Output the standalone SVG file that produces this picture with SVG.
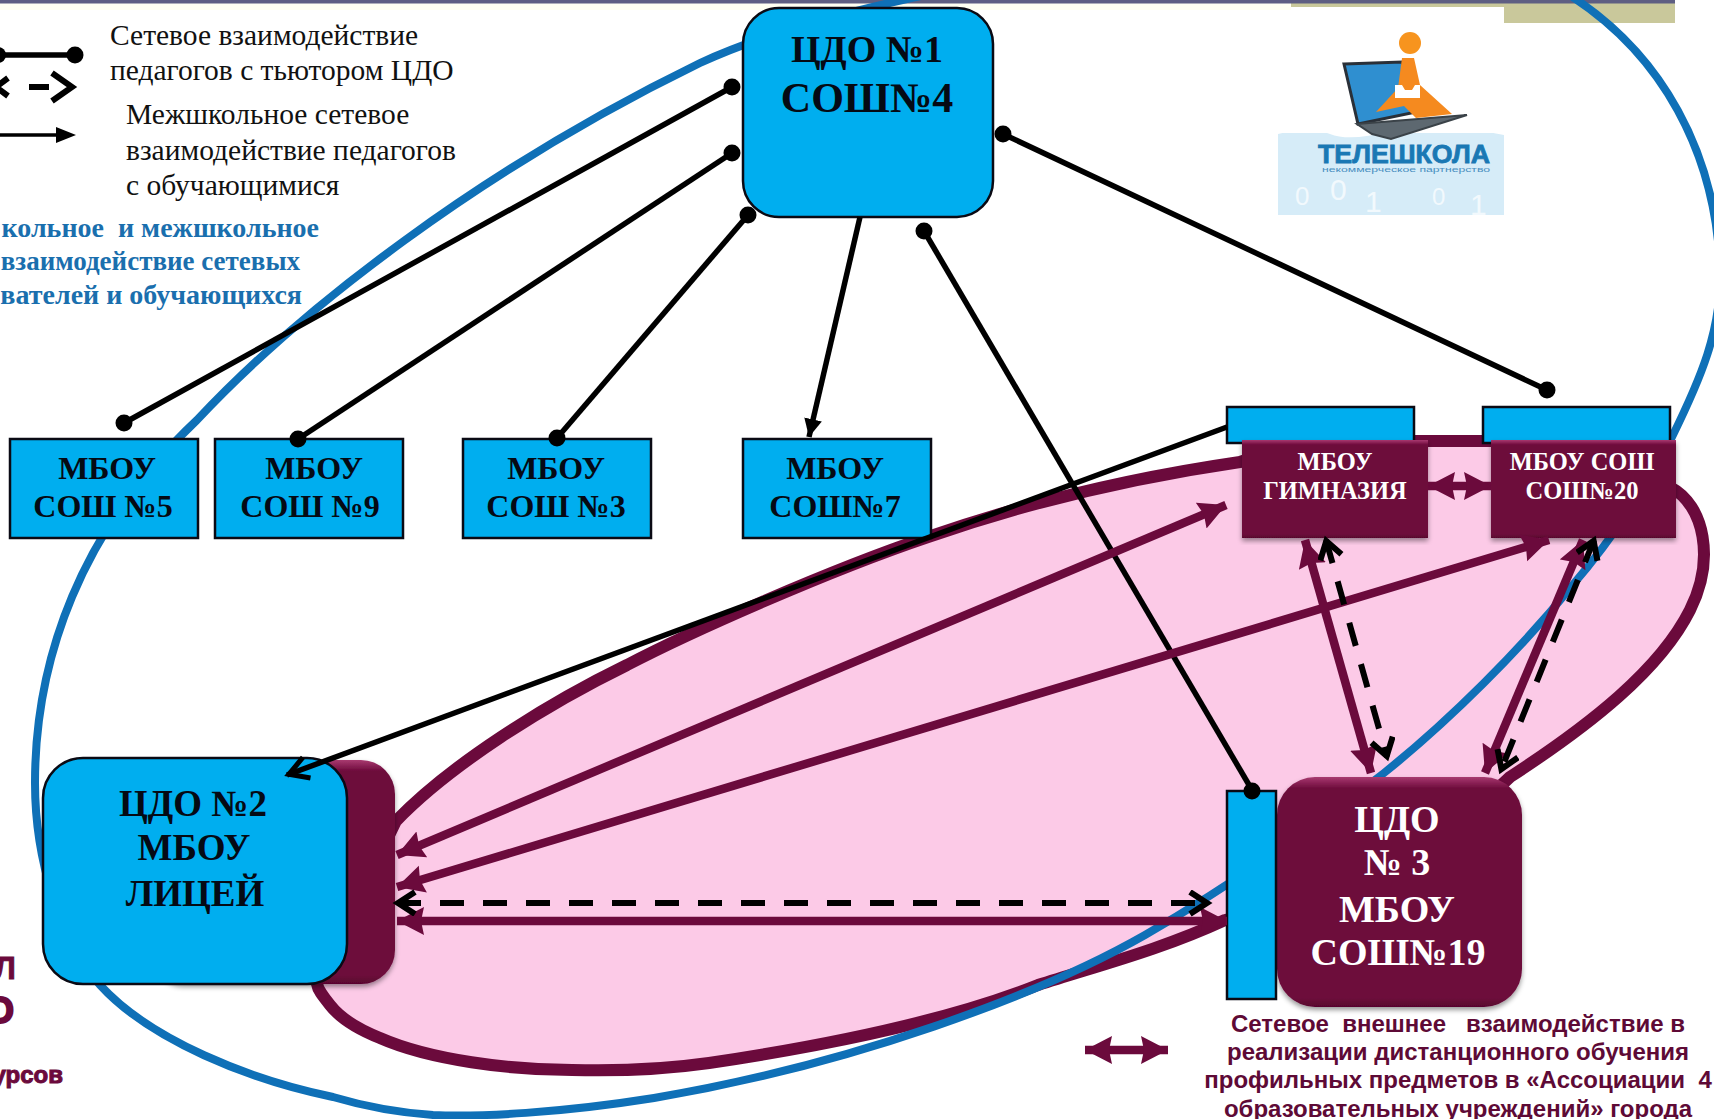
<svg xmlns="http://www.w3.org/2000/svg" width="1714" height="1119" viewBox="0 0 1714 1119">
<style>
.s{font-family:"Liberation Serif","Noto Sans",serif}
.a{font-family:"Liberation Sans","Noto Sans",sans-serif}
.t{font-weight:bold;text-anchor:middle}
.k{fill:#050a14}
.w{fill:#fff}
.blue{fill:#00aeef;stroke:#0a0a14;stroke-width:2.5}
.mar{fill:url(#mg);filter:url(#sh)}
.leg{font-size:29.5px;fill:#111}
.bl{font-size:28px;font-weight:bold;fill:#1a6fae;text-anchor:end;white-space:pre}
.br{font-size:24px;font-weight:bold;fill:#5e0a36;text-anchor:middle;white-space:pre}
.bk{stroke:#000;stroke-width:5.5;fill:none}
.dash{stroke:#000;stroke-width:6;fill:none;stroke-dasharray:24 19;marker-start:url(#open);marker-end:url(#open)}
.mr{stroke:#6b0a3c;stroke-width:8.5;fill:none;marker-start:url(#mh);marker-end:url(#mh)}
.d{fill:#000}
</style>
<defs>
<linearGradient id="mg" x1="0" y1="0" x2="0" y2="1">
<stop offset="0" stop-color="#a83a70"/><stop offset="0.05" stop-color="#6d0a3b"/><stop offset="0.96" stop-color="#6d0a3b"/><stop offset="1" stop-color="#58062e"/>
</linearGradient>
<filter id="sh" x="-5%" y="-5%" width="110%" height="112%"><feDropShadow dx="0" dy="3" stdDeviation="2.500" flood-color="#000" flood-opacity="0.4"/></filter>
<marker id="mh" markerUnits="userSpaceOnUse" markerWidth="32" markerHeight="32" refX="27" refY="14" orient="auto-start-reverse"><path d="M0 0L27 14L0 28L3 14Z" fill="#6b0a3c"/></marker>
<marker id="open" markerUnits="userSpaceOnUse" markerWidth="30" markerHeight="30" refX="23" refY="13" orient="auto-start-reverse"><path d="M5 2L22 13L5 24" fill="none" stroke="#000" stroke-width="6"/></marker>
<marker id="bh" markerUnits="userSpaceOnUse" markerWidth="22" markerHeight="22" refX="18" refY="9" orient="auto"><path d="M0 0L18 9L0 18Z" fill="#000"/></marker>
<marker id="bo" markerUnits="userSpaceOnUse" markerWidth="30" markerHeight="30" refX="25" refY="13" orient="auto"><path d="M4 2L23 13L4 24" fill="none" stroke="#000" stroke-width="5"/></marker>
</defs>
<rect width="1714" height="1119" fill="#fff"/>
<g id="header">
<rect x="0" y="3" width="1291" height="7" fill="#fffff2"/>
<path d="M1291 3H1675V23H1504V7H1291Z" fill="#c9c89b"/>
<rect width="1675" height="3.500" fill="#5e5e82"/>
</g>
<g id="pink-area"><path d="M396 821C450 765 545 705 627 665C690 632 830 570 928 537C1020 505 1130 478 1240 462L1300 441H1600L1670 487C1705 505 1715 560 1690 610C1660 670 1590 725 1510 777L1400 880L1225 920C1160 950 1100 965 1038 985C950 1020 830 1045 709 1063C660 1070 610 1071 572 1070C510 1070 430 1060 380 1038C360 1030 340 1018 330 1005C322 995 318 990 317 984Z" fill="#fccae7" stroke="#6b0a3c" stroke-width="12" stroke-linejoin="round"/></g>
<g id="blue-area"><path d="M1574 -2C1660 55 1716 150 1720 270C1722 330 1700 380 1672 437C1650 480 1620 530 1571 587C1520 650 1450 720 1384 773C1330 815 1240 880 1145 935C1040 995 850 1065 654 1098C560 1113 480 1117 433 1115C390 1112 360 1105 333 1097C250 1080 150 1040 100 985C60 940 35 860 35 783C35 660 80 530 197 420C300 310 480 170 700 63C900 -30 1450 -100 1574 -2Z" fill="none" stroke="#0f70b7" stroke-width="8"/></g>
<g id="logo">
<rect x="1278" y="133" width="226" height="82" fill="#d6ecf8"/>
<path d="M1278 134Q1310 126 1330 134T1390 131T1504 135V120H1278Z" fill="#fff"/>
<text class="a" x="1295" y="205" font-size="26" fill="#f2f9fd">0</text>
<text class="a" x="1330" y="200" font-size="30" fill="#f2f9fd">0</text>
<text class="a" x="1365" y="212" font-size="30" fill="#f2f9fd">1</text>
<text class="a" x="1432" y="205" font-size="24" fill="#f2f9fd">0</text>
<text class="a" x="1470" y="215" font-size="30" fill="#f2f9fd">1</text>
<path d="M1344 64L1402 62L1426 110L1358 124Z" fill="#2f8fd0" stroke="#2a3038" stroke-width="3"/>
<path d="M1357 124L1467 115L1391 139L1372 134Z" fill="#5d6870" stroke="#3a4248" stroke-width="2"/>
<path d="M1402 58H1414L1420 85L1452 114L1416 118L1404 106L1376 112L1398 88Z" fill="#f58a1f"/>
<circle cx="1410" cy="43" r="11" fill="#f7941e"/>
<path d="M1395 85H1402L1405 90H1412L1415 85H1420V98H1395Z" fill="#fff"/>
<text class="a" x="1404" y="163" font-size="26" font-weight="bold" text-anchor="middle" textLength="172" lengthAdjust="spacingAndGlyphs" fill="#1a78b4" stroke="#1a78b4" stroke-width="0.800">ТЕЛЕШКОЛА</text>
<text class="a" x="1406" y="172" font-size="7" text-anchor="middle" textLength="168" lengthAdjust="spacingAndGlyphs" fill="#4a8fc0">некоммерческое партнерство</text>
</g>
<g id="legend" class="s">
<text class="leg" x="110" y="45">Сетевое взаимодействие</text>
<text class="leg" x="110" y="80">педагогов с тьютором ЦДО</text>
<text class="leg" x="126" y="124">Межшкольное сетевое</text>
<text class="leg" x="126" y="160">взаимодействие педагогов</text>
<text class="leg" x="126" y="195">с обучающимися</text>
<text class="bl" x="319" y="237">кольное  и межшкольное</text>
<text class="bl" x="300" y="270" style="font-size:27px">взаимодействие сетевых</text>
<text class="bl" x="302" y="304">вателей и обучающихся</text>
<path d="M0 55H75" class="bk"/><circle cx="75" cy="55" r="8.500" class="d"/><circle cx="-2" cy="55" r="8" class="d"/>
<path d="M29 87H49" stroke="#000" stroke-width="6"/><path d="M52 73L72 87L52 101" fill="none" stroke="#000" stroke-width="6"/><path d="M8 78L-4 87L8 96" fill="none" stroke="#000" stroke-width="6"/>
<path d="M0 135H58" stroke="#000" stroke-width="3.500"/><path d="M56 127L76 135L56 143Z" class="d"/>
</g>
<g id="cdo1"><rect class="blue" x="743" y="8" width="250" height="209" rx="36"/><text class="s t k" x="867" y="62" font-size="38">ЦДО №1</text><text class="s t k" x="867" y="112" font-size="42">СОШ№4</text></g>
<g id="school5"><rect class="blue" x="10" y="439" width="188" height="99"/><text class="s t k" x="107" y="479" font-size="32">МБОУ</text><text class="s t k" x="103" y="517" font-size="32">СОШ №5</text></g>
<g id="school9"><rect class="blue" x="215" y="439" width="188" height="99"/><text class="s t k" x="314" y="479" font-size="32">МБОУ</text><text class="s t k" x="310" y="517" font-size="32">СОШ №9</text></g>
<g id="school3"><rect class="blue" x="463" y="439" width="188" height="99"/><text class="s t k" x="556" y="479" font-size="32">МБОУ</text><text class="s t k" x="556" y="517" font-size="32">СОШ №3</text></g>
<g id="school7"><rect class="blue" x="743" y="439" width="188" height="99"/><text class="s t k" x="835" y="479" font-size="32">МБОУ</text><text class="s t k" x="835" y="517" font-size="32">СОШ№7</text></g>
<g id="gymnasium"><rect class="blue" x="1227" y="407" width="187" height="36"/><rect class="mar" x="1242" y="440" width="186" height="98"/><text class="s t w" x="1335" y="470" font-size="24.500">МБОУ</text><text class="s t w" x="1335" y="499" font-size="24.500">ГИМНАЗИЯ</text></g>
<g id="school20"><rect class="blue" x="1483" y="407" width="187" height="36"/><rect class="mar" x="1491" y="440" width="185" height="98"/><text class="s t w" x="1582" y="470" font-size="24.500">МБОУ СОШ</text><text class="s t w" x="1582" y="499" font-size="24.500">СОШ№20</text></g>
<g id="cdo2"><rect class="mar" x="150" y="760" width="245" height="224" rx="34"/><rect class="blue" x="43" y="758" width="304" height="226" rx="40"/><text class="s t k" x="193" y="816" font-size="37">ЦДО №2</text><text class="s t k" x="194" y="860" font-size="37">МБОУ</text><text class="s t k" x="195" y="906" font-size="37">ЛИЦЕЙ</text></g>
<g id="cdo3"><rect class="mar" x="1277" y="777" width="245" height="230" rx="38"/><rect class="blue" x="1227" y="791" width="49" height="208"/><text class="s t w" x="1397" y="832" font-size="38">ЦДО</text><text class="s t w" x="1397" y="875" font-size="38">№ 3</text><text class="s t w" x="1397" y="922" font-size="38">МБОУ</text><text class="s t w" x="1398" y="965" font-size="38">СОШ№19</text></g>
<g id="connectors">
<path class="bk" d="M732 87L124 423"/><circle class="d" cx="732" cy="87" r="8.500"/><circle class="d" cx="124" cy="423" r="8.500"/>
<path class="bk" d="M732 153L298 439"/><circle class="d" cx="732" cy="153" r="8.500"/><circle class="d" cx="298" cy="439" r="8.500"/>
<path class="bk" d="M748 215L557 438"/><circle class="d" cx="748" cy="215" r="8.500"/><circle class="d" cx="557" cy="438" r="8.500"/>
<path class="bk" d="M860 217L809 437" marker-end="url(#bh)"/>
<path class="bk" d="M1003 134L1547 390"/><circle class="d" cx="1003" cy="134" r="8.500"/><circle class="d" cx="1547" cy="390" r="8.500"/>
<path class="bk" d="M924 231L1252 790"/><circle class="d" cx="924" cy="231" r="8.500"/><circle class="d" cx="1252" cy="791" r="8.500"/>
<path class="bk" d="M1227 427L287 775" marker-end="url(#bo)"/>
<path class="mr" d="M1226 505L397 855"/>
<path class="mr" d="M1549 540L397 887"/>
<path class="mr" d="M1227 921H397"/>
<path class="dash" d="M397 903H1208"/>
<path class="mr" d="M1428 486H1491"/>
<path class="mr" d="M1305 540L1371 773"/>
<path class="dash" d="M1326 540L1387 757"/>
<path class="mr" d="M1583 540L1485 773"/>
<path class="dash" d="M1594 540L1501 770"/>
<path class="mr" d="M1085 1050H1168"/>
</g>
<g id="notes">
<text class="a br" x="1458" y="1032">Сетевое  внешнее   взаимодействие в</text>
<text class="a br" x="1458" y="1060">реализации дистанционного обучения</text>
<text class="a br" x="1458" y="1088">профильных предметов в «Ассоциации  4</text>
<text class="a br" x="1458" y="1117">образовательных учреждений» города</text>
<text class="a" x="-6" y="979" font-size="31" font-weight="bold" fill="#6b0a3c" stroke="#6b0a3c">Л</text>
<text class="a" x="-14" y="1023" font-size="36" font-weight="bold" fill="#6b0a3c" stroke="#6b0a3c" stroke-width="2">О</text>
<text class="a" x="63" y="1083" font-size="24" font-weight="bold" text-anchor="end" fill="#6b0a3c" stroke="#6b0a3c">урсов</text>
</g>
</svg>
